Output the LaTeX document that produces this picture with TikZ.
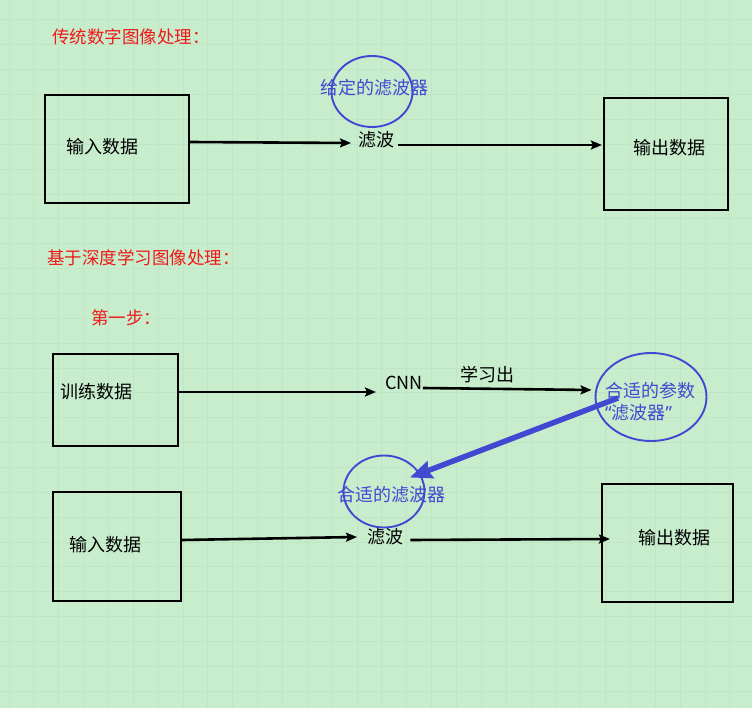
\documentclass[tikz,border=0pt]{standalone}
\usepackage{fontspec}
\newfontfamily\cjk{Noto Sans CJK SC}
\newfontfamily\lat{Noto Sans}
\usetikzlibrary{arrows.meta,shapes.geometric}
\definecolor{bg}{HTML}{C7EDCC}
\definecolor{gridc}{HTML}{C0E5C5}
\definecolor{myblue}{HTML}{4248D2}
\definecolor{myred}{HTML}{F01818}
\tikzset{
  box/.style={draw=black,line width=2.2pt,rectangle,minimum width=#1},
  ell/.style={draw=myblue,line width=1.9pt,ellipse,inner sep=0pt},
  txt/.style={inner sep=0pt,anchor=west,font=\cjk\fontsize{18}{20}\selectfont},
  ttl/.style={txt,text=myred,font=\cjk\fontsize{17.5}{20}\selectfont},
  btxt/.style={txt,text=myblue},
  arr/.style={line width=2.6pt,-{Stealth[length=11pt,width=9pt,inset=2pt]}},
  barr/.style={draw=myblue,line width=5.5pt,-{Stealth[length=22pt,width=18pt,inset=3pt]}}
}
\begin{document}
\begin{tikzpicture}[x=1pt,y=-1pt]
\fill[bg] (0,0) rectangle (752,708);
\useasboundingbox (0,0) rectangle (752,708);
\foreach \i in {0,...,30} {
  \draw[gridc,line width=1pt] ({9+24.86*\i},0) -- ({9+24.86*\i},708);
}
\foreach \i in {0,...,28} {
  \draw[gridc,line width=1pt] (0,{20+24.86*\i}) -- (752,{20+24.86*\i});
}
% titles
\node[ttl] (t1) at (52,37) {传统数字图像处理：};
\node[ttl] (t2) at (47,258) {基于深度学习图像处理：};
\node[ttl] (t3) at (91,318) {第一步：};
% section 1
\node[box=144pt,minimum height=108pt] (b1) at (117,149) {};
\node[txt] (l1) at (66,147) {输入数据};
\node[ell,minimum width=81pt,minimum height=71pt] (e1) at (372,91.5) {};
\node[btxt] (l2) at (320,88) {给定的滤波器};
\node[txt] (f1) at (358,140) {滤波};
\node[box=124pt,minimum height=112pt] (b2) at (666,154) {};
\node[txt] (l3) at (633,148) {输出数据};
\draw[arr] ([yshift=7pt]b1.east) -- ([xshift=-7pt,yshift=-3pt]f1.west);
\draw[arr] ([xshift=4pt,yshift=-5pt]f1.east) -- ([xshift=-1pt,yshift=9pt]b2.west);
% section 2
\node[box=125pt,minimum height=92pt] (b3) at (115.5,400) {};
\node[txt] (l4) at (60,392) {训练数据};
\node[txt] (cnn) at (385,383) {CNN};
\node[txt] (l5) at (460,375) {学习出};
\node[ell,minimum width=111pt,minimum height=88pt] (e2) at (651,397) {};
\node[btxt] (l6) at (605,391) {合适的参数};
\node[btxt] (l7) at (605,413) {{\lat “}滤波器{\lat ”}};
\node[ell,minimum width=81pt,minimum height=72pt] (e3) at (384,491.5) {};
\node[btxt] (l8) at (337,495) {合适的滤波器};
\node[txt] (f2) at (367,537) {滤波};
\node[box=128pt,minimum height=109pt] (b4) at (117,546.5) {};
\node[txt] (l9) at (69,545) {输入数据};
\node[box=131pt,minimum height=118pt] (b5) at (667.5,543) {};
\node[txt] (l10) at (638,538) {输出数据};
\draw[arr] ([yshift=8pt]b3.east) -- ([xshift=-9pt,yshift=-9pt]cnn.west);
\draw[arr] ([yshift=-5pt]cnn.east) -- ([xshift=-3pt,yshift=7pt]e2.west);
\draw[barr] ([xshift=-33pt,yshift=-1pt]e2.center) -- ([xshift=26pt,yshift=14pt]e3.center);
\draw[arr] ([yshift=6.5pt]b4.east) -- ([xshift=-10pt]f2.west);
\draw[arr] ([xshift=7pt,yshift=-3pt]f2.east) -- ([xshift=9pt,yshift=4pt]b5.west);
\end{tikzpicture}
\end{document}
